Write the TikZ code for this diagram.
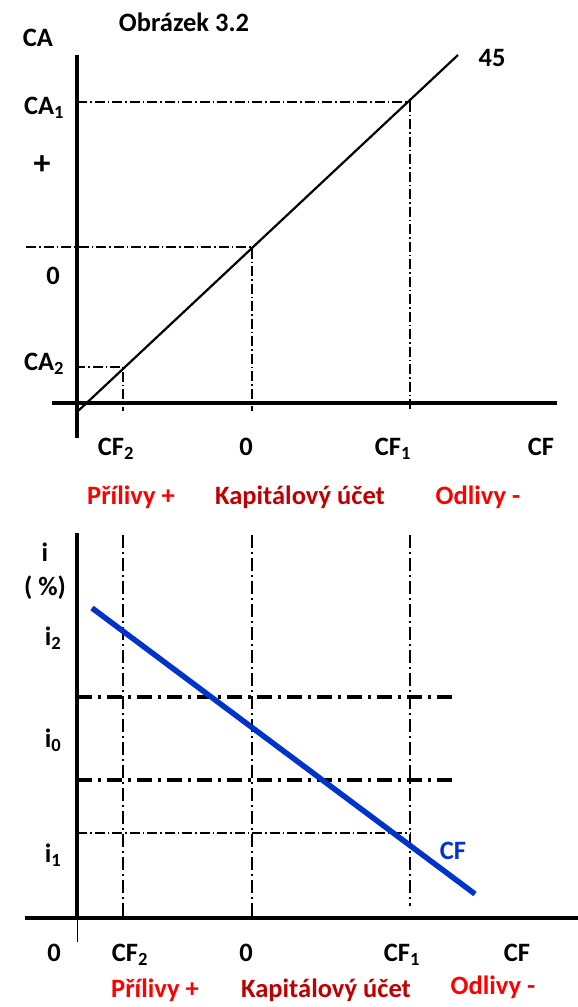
\documentclass[tikz,border=0pt]{standalone}
\usepackage{fontspec}
\setmainfont{Carlito}
\usetikzlibrary{calc}
\definecolor{cfblue}{RGB}{0,51,204}
\definecolor{darkred}{RGB}{192,0,0}

\begin{document}
\begin{tikzpicture}[
    x=1pt, y=-1pt,
    every node/.style={font=\fontsize{26.5}{30}\selectfont\bfseries, inner sep=0pt},
    axis/.style={line width=3.6pt},
    guide/.style={line width=1.4pt, dash pattern=on 10pt off 3pt on 1.5pt off 3pt},
    heavyguide/.style={line width=3.2pt, dash pattern=on 15pt off 6pt on 3pt off 6pt},
    curve/.style={line width=2.2pt},
    inflow/.style={text=red},
    outflow/.style={text=red}
]
    \useasboundingbox (0,0) rectangle (578,1007);

    % upper panel: CA against CF
    \coordinate (ca top) at (77,55);
    \coordinate (ca bot) at (77,438);
    \coordinate (cf left) at (52,403);
    \coordinate (cf right) at (557,403);
    \coordinate (line start) at (77,412);
    \coordinate (line end) at (458,55);
    \coordinate (p1) at (410,102);
    \coordinate (p0) at (252,247);
    \coordinate (p2) at (123,367);

    \draw[axis] (ca top) -- (ca bot);
    \draw[axis] (cf left) -- (cf right);
    \draw[curve] (line start) -- (line end);

    \draw[guide] (77,102) -- (p1) -- (410,411);
    \draw[guide] (26,247) -- (p0) -- (252,411);
    \draw[guide] (75,367) -- (p2) -- (123,411);

    \node (title) at (184,22) {Obrázek 3.2};
    \node (ca) at (38,38) {CA};
    \node (deg) at (492,58) {45};
    \node (ca1) at (44,108) {CA\textsubscript{1}};
    \node[font=\fontsize{34}{36}\selectfont\bfseries] (plus) at (42,165) {+};
    \node (ca0) at (53,276) {0};
    \node (ca2) at (44,364) {CA\textsubscript{2}};
    \node (cf2 up) at (116,449) {CF\textsubscript{2}};
    \node (zero up) at (246,447) {0};
    \node (cf1 up) at (393,449) {CF\textsubscript{1}};
    \node (cf up) at (541,447) {CF};
    \node[inflow] (in up) at (131,497) {Přílivy +};
    \node[text=darkred] (acc up) at (300,497) {Kapitálový účet};
    \node[outflow] (out up) at (478,497) {Odlivy -};

    % lower panel: i against CF
    \coordinate (i top) at (77,533);
    \coordinate (i bot) at (77,920);
    \coordinate (x left) at (25,918);
    \coordinate (x right) at (578,918);
    \coordinate (cf start) at (92,608);
    \coordinate (cf end) at (475,894);

    \draw[axis] (i top) -- (i bot);
    \draw[line width=1pt] (i bot) -- (77,942);
    \draw[axis] (x left) -- (x right);

    \draw[guide, line width=2pt, dash pattern=on 13pt off 4pt on 2pt off 4pt] (123,535) -- (123,918);
    \draw[guide, line width=2pt, dash pattern=on 13pt off 4pt on 2pt off 4pt] (252,535) -- (252,918);
    \draw[guide, line width=2pt, dash pattern=on 13pt off 4pt on 2pt off 4pt] (410,535) -- (410,906);
    \draw[heavyguide] (77,697) -- (455,697);
    \draw[heavyguide] (77,780) -- (455,780);
    \draw[guide] (77,833) -- (410,833);

    \draw[line width=5.5pt, cfblue] (cf start) -- (cf end);

    \node (i) at (45,552) {i};
    \node (pct) at (45,588) {( \%)};
    \node (i2) at (53,638) {i\textsubscript{2}};
    \node (i0) at (53,740) {i\textsubscript{0}};
    \node (i1) at (53,855) {i\textsubscript{1}};
    \node[text=cfblue] (cf lbl) at (453,851) {CF};
    \node (zero origin) at (54,953) {0};
    \node (cf2 low) at (130,955) {CF\textsubscript{2}};
    \node (zero low) at (246,953) {0};
    \node (cf1 low) at (402,955) {CF\textsubscript{1}};
    \node (cf low) at (517,953) {CF};
    \node[inflow] (in low) at (155,990) {Přílivy +};
    \node[text=darkred] (acc low) at (326,990) {Kapitálový účet};
    \node[outflow] (out low) at (493,987) {Odlivy -};
\end{tikzpicture}
\end{document}
